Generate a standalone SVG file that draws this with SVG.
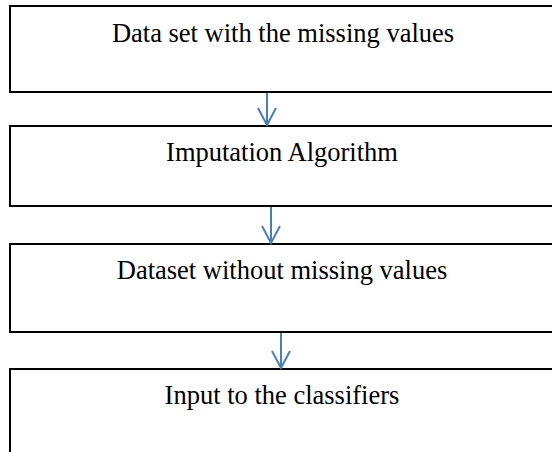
<svg xmlns="http://www.w3.org/2000/svg" width="552" height="452" viewBox="0 0 552 452">
  <style>
    .box { fill: #ffffff; stroke: #000000; stroke-width: 2; }
    .label { font-family: "Liberation Serif", "Times New Roman", serif; font-size: 26.5px; fill: #000000; text-anchor: middle; }
    .flow { stroke: #4a7ebb; stroke-width: 2; fill: none; }
  </style>
  <defs>
    <!-- open chevron head, drawn along +x so orient="auto" points it down the line -->
    <marker id="chevron" viewBox="0 0 20 20" refX="18" refY="10" markerWidth="20" markerHeight="20" markerUnits="userSpaceOnUse" orient="auto">
      <path d="M1 1 L18 10 L1 19" fill="none" stroke="#4a7ebb" stroke-width="2"/>
    </marker>
  </defs>
  <rect width="552" height="452" fill="#ffffff"/>

  <g id="node-dataset-missing">
    <rect class="box" x="10" y="6" width="560" height="86"/>
    <text class="label" x="283" y="42">Data set with the missing values</text>
  </g>

  <g id="node-imputation">
    <rect class="box" x="10" y="126" width="560" height="80"/>
    <text class="label" x="282" y="161">Imputation Algorithm</text>
  </g>

  <g id="node-dataset-complete">
    <rect class="box" x="10" y="244" width="560" height="88"/>
    <text class="label" x="282" y="279">Dataset without missing values</text>
  </g>

  <g id="node-classifiers">
    <rect class="box" x="10" y="369" width="560" height="100"/>
    <text class="label" x="282" y="404">Input to the classifiers</text>
  </g>

  <g id="connectors">
    <line class="flow" x1="267" y1="93" x2="267" y2="125" marker-end="url(#chevron)"/>
    <line class="flow" x1="271" y1="207" x2="271" y2="243" marker-end="url(#chevron)"/>
    <line class="flow" x1="281" y1="333" x2="281" y2="368" marker-end="url(#chevron)"/>
  </g>
</svg>
